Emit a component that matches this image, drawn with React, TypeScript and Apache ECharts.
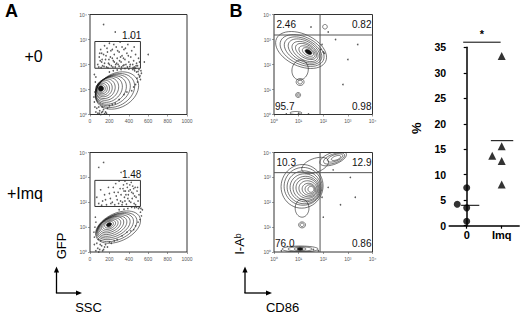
import React, { useEffect, useRef } from 'react';
import * as echarts from 'echarts';

// ---------- data ----------
const logTickLabels = ['10⁰', '10¹', '10²', '10³', '10⁴'];
const rowLabels = ['+0', '+Imq'];
const panelLetters = ['A', 'B'];
const axisTitles = ['GFP', 'SSC', 'I-Aᵇ', 'CD86'];

// gates for panel A: [xMin, xMax, logYMin, logYMax]
const gateA0 = [50, 520, 1.85, 2.92];
const gateA1 = [50, 520, 1.83, 2.88];
const gateLabels = ['1.01', '1.48'];

// quadrant cut positions for panel B (log units)
const quadB0 = [1.87, 3.18];
const quadB1 = [1.87, 3.19];
const quadLabelsB0 = ['2.46', '0.82', '95.7', '0.98'];
const quadLabelsB1 = ['10.3', '12.9', '76.0', '0.86'];

// contours: [cx, cy, rx, ry, tiltDeg (counter-clockwise on screen), filled]
const contoursA0 = [
  [278, 0.96, 237, 0.68, 30, 0],
  [258, 0.96, 215, 0.62, 30, 0],
  [236, 0.97, 193, 0.56, 33, 0],
  [216, 0.98, 172, 0.51, 36, 0],
  [196, 1.0, 150, 0.46, 40, 0],
  [178, 1.02, 128, 0.41, 44, 0],
  [160, 1.03, 108, 0.36, 48, 0],
  [146, 1.04, 88, 0.31, 52, 0],
  [134, 1.04, 70, 0.26, 56, 0],
  [124, 1.04, 54, 0.21, 60, 0],
  [117, 1.04, 40, 0.16, 60, 0],
  [112, 1.04, 28, 0.11, 60, 1],
];
const contoursA1 = [
  [289, 1.0, 247, 0.56, 25, 0],
  [274, 1.0, 224, 0.5, 25, 0],
  [259, 1.02, 202, 0.45, 25, 0],
  [245, 1.03, 180, 0.4, 25, 0],
  [232, 1.04, 158, 0.35, 25, 0],
  [220, 1.06, 136, 0.31, 25, 0],
  [210, 1.07, 114, 0.26, 25, 0],
  [203, 1.08, 92, 0.21, 25, 0],
  [198, 1.09, 70, 0.16, 25, 0],
  [196, 1.1, 48, 0.12, 25, 0],
  [196, 1.1, 28, 0.075, 25, 1],
];
const contoursB0 = [
  [1.1, 2.58, 1.1, 0.64, -25, 0],
  [1.14, 2.56, 0.95, 0.55, -25, 0],
  [1.18, 2.55, 0.82, 0.47, -27, 0],
  [1.22, 2.54, 0.7, 0.4, -29, 0],
  [1.26, 2.52, 0.58, 0.33, -30, 0],
  [1.3, 2.52, 0.47, 0.26, -30, 0],
  [1.34, 2.5, 0.36, 0.2, -30, 0],
  [1.38, 2.5, 0.25, 0.14, -30, 0],
  [1.4, 2.5, 0.15, 0.08, -30, 1],
  [1.06, 1.78, 0.33, 0.4, -10, 0],
  [1.06, 1.3, 0.16, 0.14, 0, 0],
  [1.06, 1.3, 0.09, 0.08, 0, 0],
  [0.98, 0.78, 0.1, 0.1, 0, 0],
  [0.98, 0.78, 0.05, 0.05, 0, 0],
  [2.07, 3.51, 0.093, 0.092, 0, 0],
  [0.89, 0.06, 0.24, 0.06, 0, 0],
];
const contoursB1 = [
  [1.14, 2.64, 0.85, 0.88, -15, 0],
  [1.18, 2.64, 0.77, 0.76, -15, 0],
  [1.22, 2.6, 0.69, 0.66, -15, 0],
  [1.26, 2.58, 0.61, 0.56, -15, 0],
  [1.3, 2.56, 0.53, 0.48, -15, 0],
  [1.34, 2.56, 0.45, 0.4, -15, 0],
  [1.38, 2.54, 0.37, 0.32, -15, 0],
  [1.42, 2.52, 0.28, 0.24, -15, 0],
  [1.46, 2.52, 0.2, 0.18, -15, 0],
  [1.5, 2.52, 0.12, 0.12, -15, 0],
  [2.4, 3.76, 0.57, 0.24, 20, 0],
  [2.44, 3.76, 0.45, 0.18, 20, 0],
  [2.48, 3.78, 0.33, 0.13, 20, 0],
  [2.52, 3.78, 0.2, 0.08, 20, 0],
  [1.67, 3.48, 0.57, 0.28, 20, 0],
  [1.14, 1.76, 0.28, 0.36, 0, 0],
  [1.14, 1.09, 0.14, 0.12, 0, 0],
  [1.14, 1.09, 0.08, 0.07, 0, 0],
  [1.06, 0.12, 0.73, 0.12, 0, 0],
  [1.06, 0.12, 0.49, 0.09, 0, 0],
  [1.06, 0.12, 0.24, 0.064, 0, 0],
  [1.06, 0.12, 0.12, 0.048, 0, 1],
];

// events (dots): [x, logY]
const dotsA0 = [
  [80, 2.0], [95, 2.3], [110, 2.6], [120, 2.1], [130, 1.95], [140, 2.4], [150, 2.75], [160, 2.2],
  [170, 1.9], [180, 2.5], [190, 2.05], [200, 2.85], [210, 2.3], [220, 1.95], [230, 2.6], [240, 2.15],
  [250, 2.4], [260, 1.9], [270, 2.7], [280, 2.25], [290, 2.0], [300, 2.5], [310, 2.9], [320, 2.1],
  [330, 2.35], [340, 1.95], [350, 2.6], [360, 2.2], [370, 2.0], [380, 2.45], [390, 2.8], [400, 2.1],
  [410, 1.92], [420, 2.3], [430, 2.55], [440, 2.0], [450, 2.15], [460, 1.9], [470, 2.4], [480, 2.05],
  [490, 1.95], [500, 2.25], [150, 2.05], [200, 2.0], [250, 2.1], [300, 1.93], [350, 1.98], [120, 2.45],
  [230, 2.25], [330, 2.7], [105, 2.15], [165, 2.35], [215, 2.55], [275, 2.05], [325, 1.9],
  [90, 1.9], [115, 1.88], [145, 1.92], [185, 1.87], [235, 1.9], [265, 2.0], [305, 2.15], [345, 2.25],
  [385, 1.9], [415, 2.0], [445, 1.88], [475, 1.95], [510, 2.1], [125, 2.2], [175, 2.65], [245, 2.8],
  [285, 2.55], [365, 2.65], [455, 2.7], [100, 2.45], [195, 2.2], [315, 2.3], [395, 2.35],
  [260, 3.3], [140, 3.6], [420, 3.1], [600, 2.4], [560, 2.1],
  [440, 1.8], [460, 1.75], [480, 1.7], [500, 1.6], [510, 1.5], [520, 1.4], [490, 1.3], [470, 1.2],
  [450, 1.1], [430, 0.95], [530, 1.65], [505, 1.8], [470, 1.85], [400, 1.82], [360, 1.84], [320, 1.8],
  [280, 1.78], [240, 1.75], [200, 1.7], [495, 1.72], [515, 1.55], [525, 1.75], [455, 1.82], [485, 1.45],
  [60, 0.1], [80, 0.05], [100, 0.15], [120, 0.08], [140, 0.2], [160, 0.1], [180, 0.25], [200, 0.35],
  [90, 0.3], [70, 0.25], [110, 0.0], [130, 0.12], [150, 0.03], [95, 0.05], [125, 0.3], [170, 0.05],
  [45, 0.5], [50, 0.9], [55, 1.3], [40, 0.7], [60, 1.5], [50, 0.3], [65, 1.1], [45, 1.6],
  [300, 0.6], [350, 0.8], [380, 0.9], [260, 0.45], [230, 0.4],
];
const dotsA1 = [
  [70, 2.2], [90, 1.95], [110, 2.5], [130, 2.05], [150, 2.3], [170, 1.9], [190, 2.6], [210, 2.15],
  [230, 2.0], [250, 2.4], [265, 2.75], [280, 2.1], [295, 1.95], [310, 2.55], [320, 2.3], [335, 2.0],
  [345, 2.7], [355, 2.2], [365, 2.45], [375, 1.92], [385, 2.6], [395, 2.3], [405, 2.05], [415, 2.5],
  [425, 2.8], [435, 2.15], [445, 2.35], [455, 1.95], [465, 2.6], [475, 2.2], [485, 2.45], [495, 2.05],
  [505, 2.3], [300, 2.85], [360, 2.85], [240, 2.6], [200, 2.35], [420, 2.0], [470, 1.9], [330, 1.9],
  [390, 2.15], [440, 2.65], [350, 2.45], [290, 2.4], [410, 2.7], [380, 2.75], [340, 2.55], [400, 2.45],
  [430, 2.4], [460, 2.25], [370, 2.3], [315, 2.05], [255, 1.9], [215, 1.95], [160, 2.1], [120, 1.88],
  [270, 2.25], [490, 2.6], [450, 2.55], [360, 2.05],
  [140, 3.6], [90, 3.4], [320, 3.2],
  [500, 1.75], [520, 1.6], [530, 1.45], [515, 1.3], [495, 1.2], [470, 1.05], [450, 0.9], [540, 1.7],
  [480, 1.8], [430, 1.8], [390, 1.75], [350, 1.72], [300, 1.7], [510, 1.8], [525, 1.75], [460, 1.78],
  [60, 0.05], [80, 0.15], [100, 0.1], [120, 0.25], [140, 0.1], [160, 0.3], [180, 0.2], [200, 0.4],
  [220, 0.35], [70, 0.35], [110, 0.45], [90, 0.0], [130, 0.05], [150, 0.2], [85, 0.5], [105, 0.3],
  [45, 0.6], [50, 1.0], [55, 1.4], [45, 0.3], [60, 1.2], [40, 0.8],
  [280, 0.5], [330, 0.65], [380, 0.8], [420, 0.85], [250, 0.45],
];
const dotsB0 = [
  [2.5, 3.0], [3.0, 2.2], [2.8, 1.2], [1.95, 2.8], [2.2, 3.3], [3.4, 2.8], [1.5, 3.5], [2.0, 2.5],
  [0.5, 0.02], [1.0, 0.05], [1.4, 0.02], [1.9, 2.6], [2.05, 2.45],
];
const dotsB1 = [
  [2.2, 2.6], [2.7, 1.9], [3.1, 3.0], [2.0, 1.4], [1.95, 2.2], [2.4, 3.3], [3.3, 2.2],
  [0.3, 0.05], [1.6, 0.1], [1.8, 0.05],
];

// right panel: percentage per group
const groupNames = ['0', 'Imq'];
const zeroValues = [7.45, 4.2, 3.5, 0.86];
const zeroJitter = [0, -0.27, 0, 0];
const imqValues = [33.3, 15.6, 13.7, 12.7, 8.1];
const imqJitter = [0, 0, -0.27, 0, 0];
const meanLineSpan = [[-0.16, 0.36], [-0.31, 0.33]];
const sigBar = [-0.1, 0.97, 36.0];
const sigMark = '*';
const pctTitle = '%';

// ---------- helpers ----------
const FONT = '"Liberation Sans", Arial, Helvetica, sans-serif';
const mean = (a: number[]) => a.reduce((s, v) => s + v, 0) / a.length;
const ELLIPSE_STEPS = 48;

// tilted ellipse as polygon, tilt counter-clockwise on screen (y grows downward)
const contourRender = (_params: any, api: any) => {
  const c = api.coord([api.value(0), api.value(1)]);
  const s = api.size([api.value(2), api.value(3)]);
  const a = (api.value(4) * Math.PI) / 180;
  const ca = Math.cos(a);
  const sa = Math.sin(a);
  const pts: number[][] = [];
  for (let i = 0; i < ELLIPSE_STEPS; i++) {
    const t = (i / ELLIPSE_STEPS) * Math.PI * 2;
    const ex = s[0] * Math.cos(t);
    const ey = s[1] * Math.sin(t);
    pts.push([c[0] + ex * ca - ey * sa, c[1] - (ex * sa + ey * ca)]);
  }
  const filled = api.value(5) === 1;
  return {
    type: 'polygon',
    shape: { points: pts },
    style: { fill: filled ? '#111' : 'none', stroke: '#1a1a1a', lineWidth: 0.6 },
  };
};

const gateSeries = (idx: number, gate: number[], label: string) => ({
  type: 'custom',
  xAxisIndex: idx,
  yAxisIndex: idx,
  data: [gate],
  renderItem: (_p: any, api: any) => {
    const a = api.coord([api.value(0), api.value(3)]);
    const b = api.coord([api.value(1), api.value(2)]);
    return {
      type: 'group',
      children: [
        {
          type: 'rect',
          shape: { x: a[0], y: a[1], width: b[0] - a[0], height: b[1] - a[1] },
          style: { fill: 'none', stroke: '#333', lineWidth: 1 },
        },
        {
          type: 'text',
          x: b[0] + 1,
          y: a[1] - 1,
          style: {
            text: label, fontSize: 10, fontFamily: FONT, fill: '#111',
            align: 'right', verticalAlign: 'bottom',
          },
        },
      ],
    };
  },
});

const quadSeries = (idx: number, q: number[], labels: string[]) => ({
  type: 'custom',
  xAxisIndex: idx,
  yAxisIndex: idx,
  data: [q],
  renderItem: (params: any, api: any) => {
    const cs = params.coordSys;
    const p = api.coord([api.value(0), api.value(1)]);
    const txt = (t: string, x: number, y: number, align: string) => ({
      type: 'text',
      x, y,
      style: { text: t, fontSize: 10, fontFamily: FONT, fill: '#111', align, verticalAlign: 'middle' },
    });
    return {
      type: 'group',
      children: [
        { type: 'line', shape: { x1: p[0], y1: cs.y, x2: p[0], y2: cs.y + cs.height }, style: { stroke: '#555', lineWidth: 1 } },
        { type: 'line', shape: { x1: cs.x, y1: p[1], x2: cs.x + cs.width, y2: p[1] }, style: { stroke: '#555', lineWidth: 1 } },
        txt(labels[0], cs.x + 2.5, cs.y + 9.5, 'left'),
        txt(labels[1], cs.x + cs.width - 1, cs.y + 9.5, 'right'),
        txt(labels[2], cs.x + 1, cs.y + cs.height - 8.5, 'left'),
        txt(labels[3], cs.x + cs.width - 1, cs.y + cs.height - 8.5, 'right'),
      ],
    };
  },
});

const flowAxisCommon = {
  axisLine: { show: false },
  axisTick: { show: true, length: 2, lineStyle: { color: '#555', width: 0.6 } },
  splitLine: { show: false },
};
const logAxis = (gridIndex: number, isX: boolean) => ({
  type: 'value',
  gridIndex,
  min: 0,
  max: 4,
  interval: 1,
  ...flowAxisCommon,
  axisLabel: {
    fontSize: 5, color: '#555', fontFamily: FONT, margin: isX ? 4 : 3,
    formatter: (v: number) => logTickLabels[Math.round(v)] ?? '',
  },
});
const sscAxis = (gridIndex: number) => ({
  type: 'value',
  gridIndex,
  min: 0,
  max: 1000,
  interval: 200,
  ...flowAxisCommon,
  axisLabel: { fontSize: 5, color: '#555', fontFamily: FONT, margin: 4, formatter: (v: number) => String(v) },
});

const App: React.FC = () => {
  const ref = useRef<HTMLDivElement>(null);

  useEffect(() => {
    if (!ref.current) return;
    const chart = echarts.init(ref.current, undefined, { renderer: 'svg' });

    const frame = { show: true, borderColor: '#333', borderWidth: 1, backgroundColor: 'transparent' };
    const m0 = mean(zeroValues);
    const m1 = mean(imqValues);

    const arrow = (x: number, yBase: number, xEnd: number, yTop: number) => [
      { type: 'line', shape: { x1: x, y1: yBase, x2: x, y2: yTop + 4 }, style: { stroke: '#000', lineWidth: 1.3 } },
      { type: 'polygon', shape: { points: [[x, yTop], [x - 2.6, yTop + 6], [x + 2.6, yTop + 6]] }, style: { fill: '#000' } },
      { type: 'line', shape: { x1: x - 0.6, y1: yBase, x2: xEnd - 4, y2: yBase }, style: { stroke: '#000', lineWidth: 1.3 } },
      { type: 'polygon', shape: { points: [[xEnd, yBase], [xEnd - 6, yBase - 2.6], [xEnd - 6, yBase + 2.6]] }, style: { fill: '#000' } },
    ];
    const txt = (t: string, x: number, y: number, size: number, weight: string, rot = 0) => ({
      type: 'text',
      x, y,
      rotation: rot,
      style: {
        text: t, fontSize: size, fontWeight: weight, fontFamily: FONT, fill: '#000',
        align: 'center', verticalAlign: 'middle', textAlign: 'center', textVerticalAlign: 'middle',
      },
    });

    chart.setOption({
      animation: false,
      backgroundColor: '#fff',
      grid: [
        { left: 90, top: 14.5, width: 97, height: 100, ...frame },
        { left: 274, top: 14.5, width: 98.5, height: 100, ...frame },
        { left: 90, top: 152.5, width: 97, height: 99.5, ...frame },
        { left: 274, top: 152.5, width: 98.5, height: 99.5, ...frame },
        { left: 449.2, top: 47.3, width: 70, height: 178.4, show: false },
      ],
      xAxis: [
        sscAxis(0),
        logAxis(1, true),
        sscAxis(2),
        logAxis(3, true),
        {
          type: 'value',
          gridIndex: 4,
          min: -0.5,
          max: 1.5,
          splitLine: { show: false },
          axisLine: { show: true, lineStyle: { color: '#000', width: 1.5 } },
          axisTick: { show: true, length: 3, customValues: [0, 1], lineStyle: { color: '#000', width: 1.2 } },
          axisLabel: {
            customValues: [0, 1],
            fontSize: 11, fontWeight: 'bold', color: '#000', fontFamily: FONT, margin: 4,
            formatter: (v: number) => groupNames[Math.round(v)] ?? '',
          },
        },
      ],
      yAxis: [
        logAxis(0, false),
        logAxis(1, false),
        logAxis(2, false),
        logAxis(3, false),
        {
          type: 'value',
          gridIndex: 4,
          min: 0,
          max: 35,
          interval: 5,
          splitLine: { show: false },
          axisLine: { show: true, lineStyle: { color: '#000', width: 1.5 } },
          axisTick: { show: true, length: 3, lineStyle: { color: '#000', width: 1.2 } },
          axisLabel: { fontSize: 10.5, fontWeight: 'bold', color: '#000', fontFamily: FONT, margin: 3 },
        },
      ],
      series: [
        ...[dotsA0, dotsB0, dotsA1, dotsB1].map((d, i) => ({
          type: 'scatter',
          xAxisIndex: i,
          yAxisIndex: i,
          data: d,
          symbol: 'circle',
          symbolSize: 1.6,
          itemStyle: { color: '#333' },
          silent: true,
        })),
        { type: 'custom', xAxisIndex: 0, yAxisIndex: 0, clip: true, data: contoursA0, renderItem: contourRender },
        { type: 'custom', xAxisIndex: 1, yAxisIndex: 1, clip: true, data: contoursB0, renderItem: contourRender },
        { type: 'custom', xAxisIndex: 2, yAxisIndex: 2, clip: true, data: contoursA1, renderItem: contourRender },
        { type: 'custom', xAxisIndex: 3, yAxisIndex: 3, clip: true, data: contoursB1, renderItem: contourRender },
        gateSeries(0, gateA0, gateLabels[0]),
        gateSeries(2, gateA1, gateLabels[1]),
        quadSeries(1, quadB0, quadLabelsB0),
        quadSeries(3, quadB1, quadLabelsB1),
        {
          type: 'scatter',
          xAxisIndex: 4,
          yAxisIndex: 4,
          symbol: 'circle',
          symbolSize: 7,
          itemStyle: { color: '#000' },
          data: zeroValues.map((v, i) => [0 + zeroJitter[i], v]),
        },
        {
          type: 'scatter',
          xAxisIndex: 4,
          yAxisIndex: 4,
          symbol: 'triangle',
          symbolSize: 8,
          itemStyle: { color: '#000' },
          data: imqValues.map((v, i) => [1 + imqJitter[i], v]),
        },
        {
          type: 'custom',
          xAxisIndex: 4,
          yAxisIndex: 4,
          data: [[0, m0, meanLineSpan[0][0], meanLineSpan[0][1]], [1, m1, meanLineSpan[1][0], meanLineSpan[1][1]]],
          renderItem: (_p: any, api: any) => {
            const g = api.value(0);
            const a = api.coord([g + api.value(2), api.value(1)]);
            const b = api.coord([g + api.value(3), api.value(1)]);
            return { type: 'line', shape: { x1: a[0], y1: a[1], x2: b[0], y2: b[1] }, style: { stroke: '#000', lineWidth: 1 } };
          },
        },
        {
          type: 'custom',
          xAxisIndex: 4,
          yAxisIndex: 4,
          clip: false,
          data: [sigBar],
          renderItem: (_p: any, api: any) => {
            const a = api.coord([api.value(0), api.value(2)]);
            const b = api.coord([api.value(1), api.value(2)]);
            return {
              type: 'group',
              children: [
                { type: 'line', shape: { x1: a[0], y1: a[1], x2: b[0], y2: b[1] }, style: { stroke: '#000', lineWidth: 1 } },
                {
                  type: 'text',
                  x: (a[0] + b[0]) / 2,
                  y: a[1] - 3,
                  style: { text: sigMark, fontSize: 11, fontWeight: 'bold', fontFamily: FONT, fill: '#000', align: 'center', verticalAlign: 'bottom' },
                },
              ],
            };
          },
        },
      ],
      graphic: [
        txt(panelLetters[0], 11.5, 10.5, 18, 'bold'),
        txt(panelLetters[1], 236, 10.5, 18, 'bold'),
        txt(rowLabels[0], 33.5, 56, 16, 'normal'),
        txt(rowLabels[1], 25, 193, 16, 'normal'),
        txt(axisTitles[0], 61, 246, 13, 'normal', Math.PI / 2),
        txt(axisTitles[1], 88.5, 307, 13, 'normal'),
        txt(axisTitles[2], 239, 244, 13, 'normal', Math.PI / 2),
        txt(axisTitles[3], 282.5, 307, 13, 'normal'),
        txt(pctTitle, 416.7, 128.3, 13, 'bold', Math.PI / 2),
        ...arrow(56.5, 293, 82, 266.5),
        ...arrow(245, 293, 272, 266.5),
      ],
    });

    return () => chart.dispose();
  }, []);

  return <div ref={ref} style={{ position: 'fixed', left: 0, top: 0, width: 520, height: 314 }} />;
};

export default App;
